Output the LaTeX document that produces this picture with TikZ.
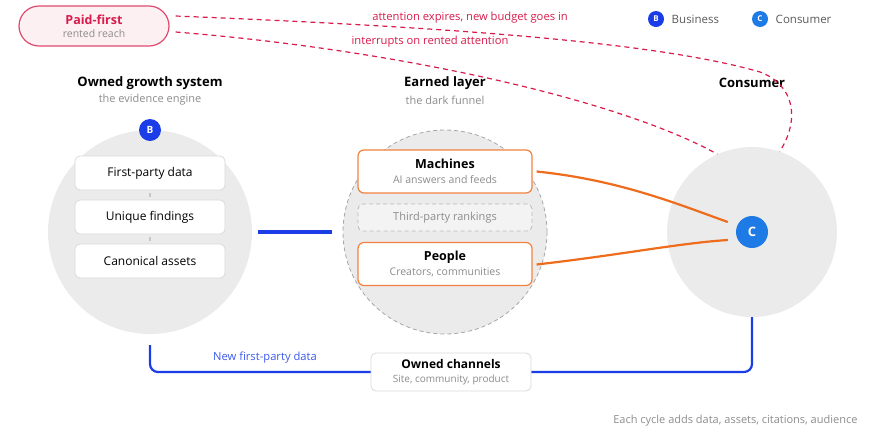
\documentclass[tikz,border=0pt]{standalone}
\usepackage{fontspec}
\setmainfont{Open Sans}
\usetikzlibrary{positioning}
\definecolor{crim}{HTML}{D81B4A}
\definecolor{pinkbg}{HTML}{FDF0F3}
\definecolor{bizblue}{HTML}{1A3DE8}
\definecolor{conblue}{HTML}{1E7BE6}
\definecolor{orng}{HTML}{EF6C1C}
\definecolor{softgray}{HTML}{EBEBEB}
\definecolor{subgray}{HTML}{8C8C8C}
\definecolor{edgegray}{HTML}{DADADA}
\begin{document}
\begin{tikzpicture}[x=1pt, y=-1pt,
    every node/.style={font=\fontsize{12}{13}\selectfont},
    title/.style={font=\fontsize{13}{15}\selectfont\bfseries},
    sub/.style={font=\fontsize{11}{13}\selectfont, text=subgray},
    card/.style={draw=edgegray, fill=white, rounded corners=5pt, line width=0.8pt, minimum width=150pt, minimum height=34pt},
    layer/.style={draw=orng!85, fill=white, rounded corners=6pt, line width=1.2pt, minimum width=174pt, minimum height=43pt, align=center},
    badge/.style={circle, text=white, inner sep=0pt, font=\fontsize{10}{12}\selectfont\bfseries},
    rented/.style={crim, line width=1.2pt, dash pattern=on 5pt off 4pt},
    loop/.style={bizblue, line width=2.2pt, rounded corners=8pt}]
      \useasboundingbox (0,0) rectangle (880,432);
      \node[circle, fill=softgray, minimum size=204pt, inner sep=0pt] (owned) at (150,232) {};
      \node[circle, fill=softgray, draw=gray!70, dash pattern=on 4pt off 3pt, line width=0.8pt, minimum size=204pt, inner sep=0pt] (earned) at (445,232) {};
      \node[circle, fill=softgray, minimum size=170pt, inner sep=0pt] (cons) at (752,232) {};
      \draw[loop] ([yshift=-11pt]owned.south) -- (150,372) -- (cons.south |- 0,372) -- (cons.south);
      \node[card, minimum width=160pt, minimum height=38pt, align=center] (chan) at (451,372) {\textbf{\fontsize{12}{14}\selectfont Owned channels}\\[1pt]{\fontsize{10}{12}\selectfont\color{subgray}Site, community, product}};
      \node[text=bizblue!85, font=\fontsize{11.2}{13}\selectfont] (newdata) at (265,358) {New first-party data};
      \node[draw=crim!80, fill=pinkbg, rounded corners=20pt, line width=1.2pt, minimum width=150pt, minimum height=40pt, align=center] (paid) at (94,26) {\textcolor{crim}{\textbf{\fontsize{12.5}{14}\selectfont Paid-first}}\\[0pt]{\fontsize{10.5}{12}\selectfont\color{subgray}rented reach}};
      \node[title] (ownedt) at (150,83) {Owned growth system};
      \node[sub] (owneds) at (150,100) {the evidence engine};
      \node[title] (earnedt) at (445,83) {Earned layer};
      \node[sub] (earneds) at (445,100) {the dark funnel};
      \node[title] (const) at (752,83) {Consumer};
      \node[badge, fill=bizblue, minimum size=22pt] (bbadge) at (150,130) {B};
      \node[card] (fpd) at (150,173) {First-party data};
      \node[card] (uniq) at (150,217) {Unique findings};
      \node[card] (canon) at (150,261) {Canonical assets};
      \draw[gray!45, line width=1.5pt, shorten <=3pt, shorten >=3pt] (fpd) -- (uniq);
      \draw[gray!45, line width=1.5pt, shorten <=3pt, shorten >=3pt] (uniq) -- (canon);
      \draw[bizblue, line width=3.5pt, shorten <=6pt, shorten >=11pt] (owned) -- (earned);
      \node[layer] (mach) at (445,171.5) {\textbf{\fontsize{12.5}{14}\selectfont Machines}\\[2pt]{\fontsize{10.5}{12}\selectfont\color{subgray}AI answers and feeds}};
      \node[draw=gray!55, fill=softgray!60, dash pattern=on 4pt off 3pt, rounded corners=5pt, line width=0.8pt, minimum width=174pt, minimum height=27pt, text=subgray, font=\fontsize{11}{13}\selectfont] (third) at (445,217.5) {Third-party rankings};
      \node[layer] (people) at (445,264) {\textbf{\fontsize{12.5}{14}\selectfont People}\\[2pt]{\fontsize{10.5}{12}\selectfont\color{subgray}Creators, communities}};
      \node[badge, fill=conblue, minimum size=32pt, font=\fontsize{13}{14}\selectfont\bfseries] (cbadge) at (752,232) {C};
      \draw[orng, line width=2.2pt] ([xshift=4pt]mach.east) .. controls (620,180) and (680,205) .. ([xshift=-8pt, yshift=10pt]cbadge.west);
      \draw[orng, line width=2.2pt] ([xshift=4pt, yshift=-0.5pt]people.east) .. controls (620,255) and (680,243) .. ([xshift=-8pt, yshift=-8pt]cbadge.west);
      \draw[rented] ([xshift=6pt, yshift=10pt]paid.east) .. controls (420,26) and (650,40) .. (760,72) .. controls (795,85) and (800,120) .. (cons.71);
      \draw[rented] ([xshift=6pt, yshift=-6pt]paid.east) .. controls (400,50) and (620,100) .. (cons.114);
      \node[text=crim, font=\fontsize{11.2}{13}\selectfont] (expires) at (470,18) {attention expires, new budget goes in};
      \node[text=crim, font=\fontsize{11.2}{13}\selectfont] (interrupts) at (430,42) {interrupts on rented attention};
      \node[badge, fill=bizblue, minimum size=16pt, font=\fontsize{8}{10}\selectfont\bfseries] (legb) at (656,19) {B};
      \node[right=4pt of legb, text=black!65, font=\fontsize{11.5}{13}\selectfont] (legbt) {Business};
      \node[badge, fill=conblue, minimum size=16pt, font=\fontsize{8}{10}\selectfont\bfseries] (legc) at (760,19) {C};
      \node[right=4pt of legc, text=black!65, font=\fontsize{11.5}{13}\selectfont] (legct) {Consumer};
      \node[sub, font=\fontsize{11}{12}\selectfont, anchor=east] (cycle) at (861,421) {Each cycle adds data, assets, citations, audience};
\end{tikzpicture}
\end{document}
